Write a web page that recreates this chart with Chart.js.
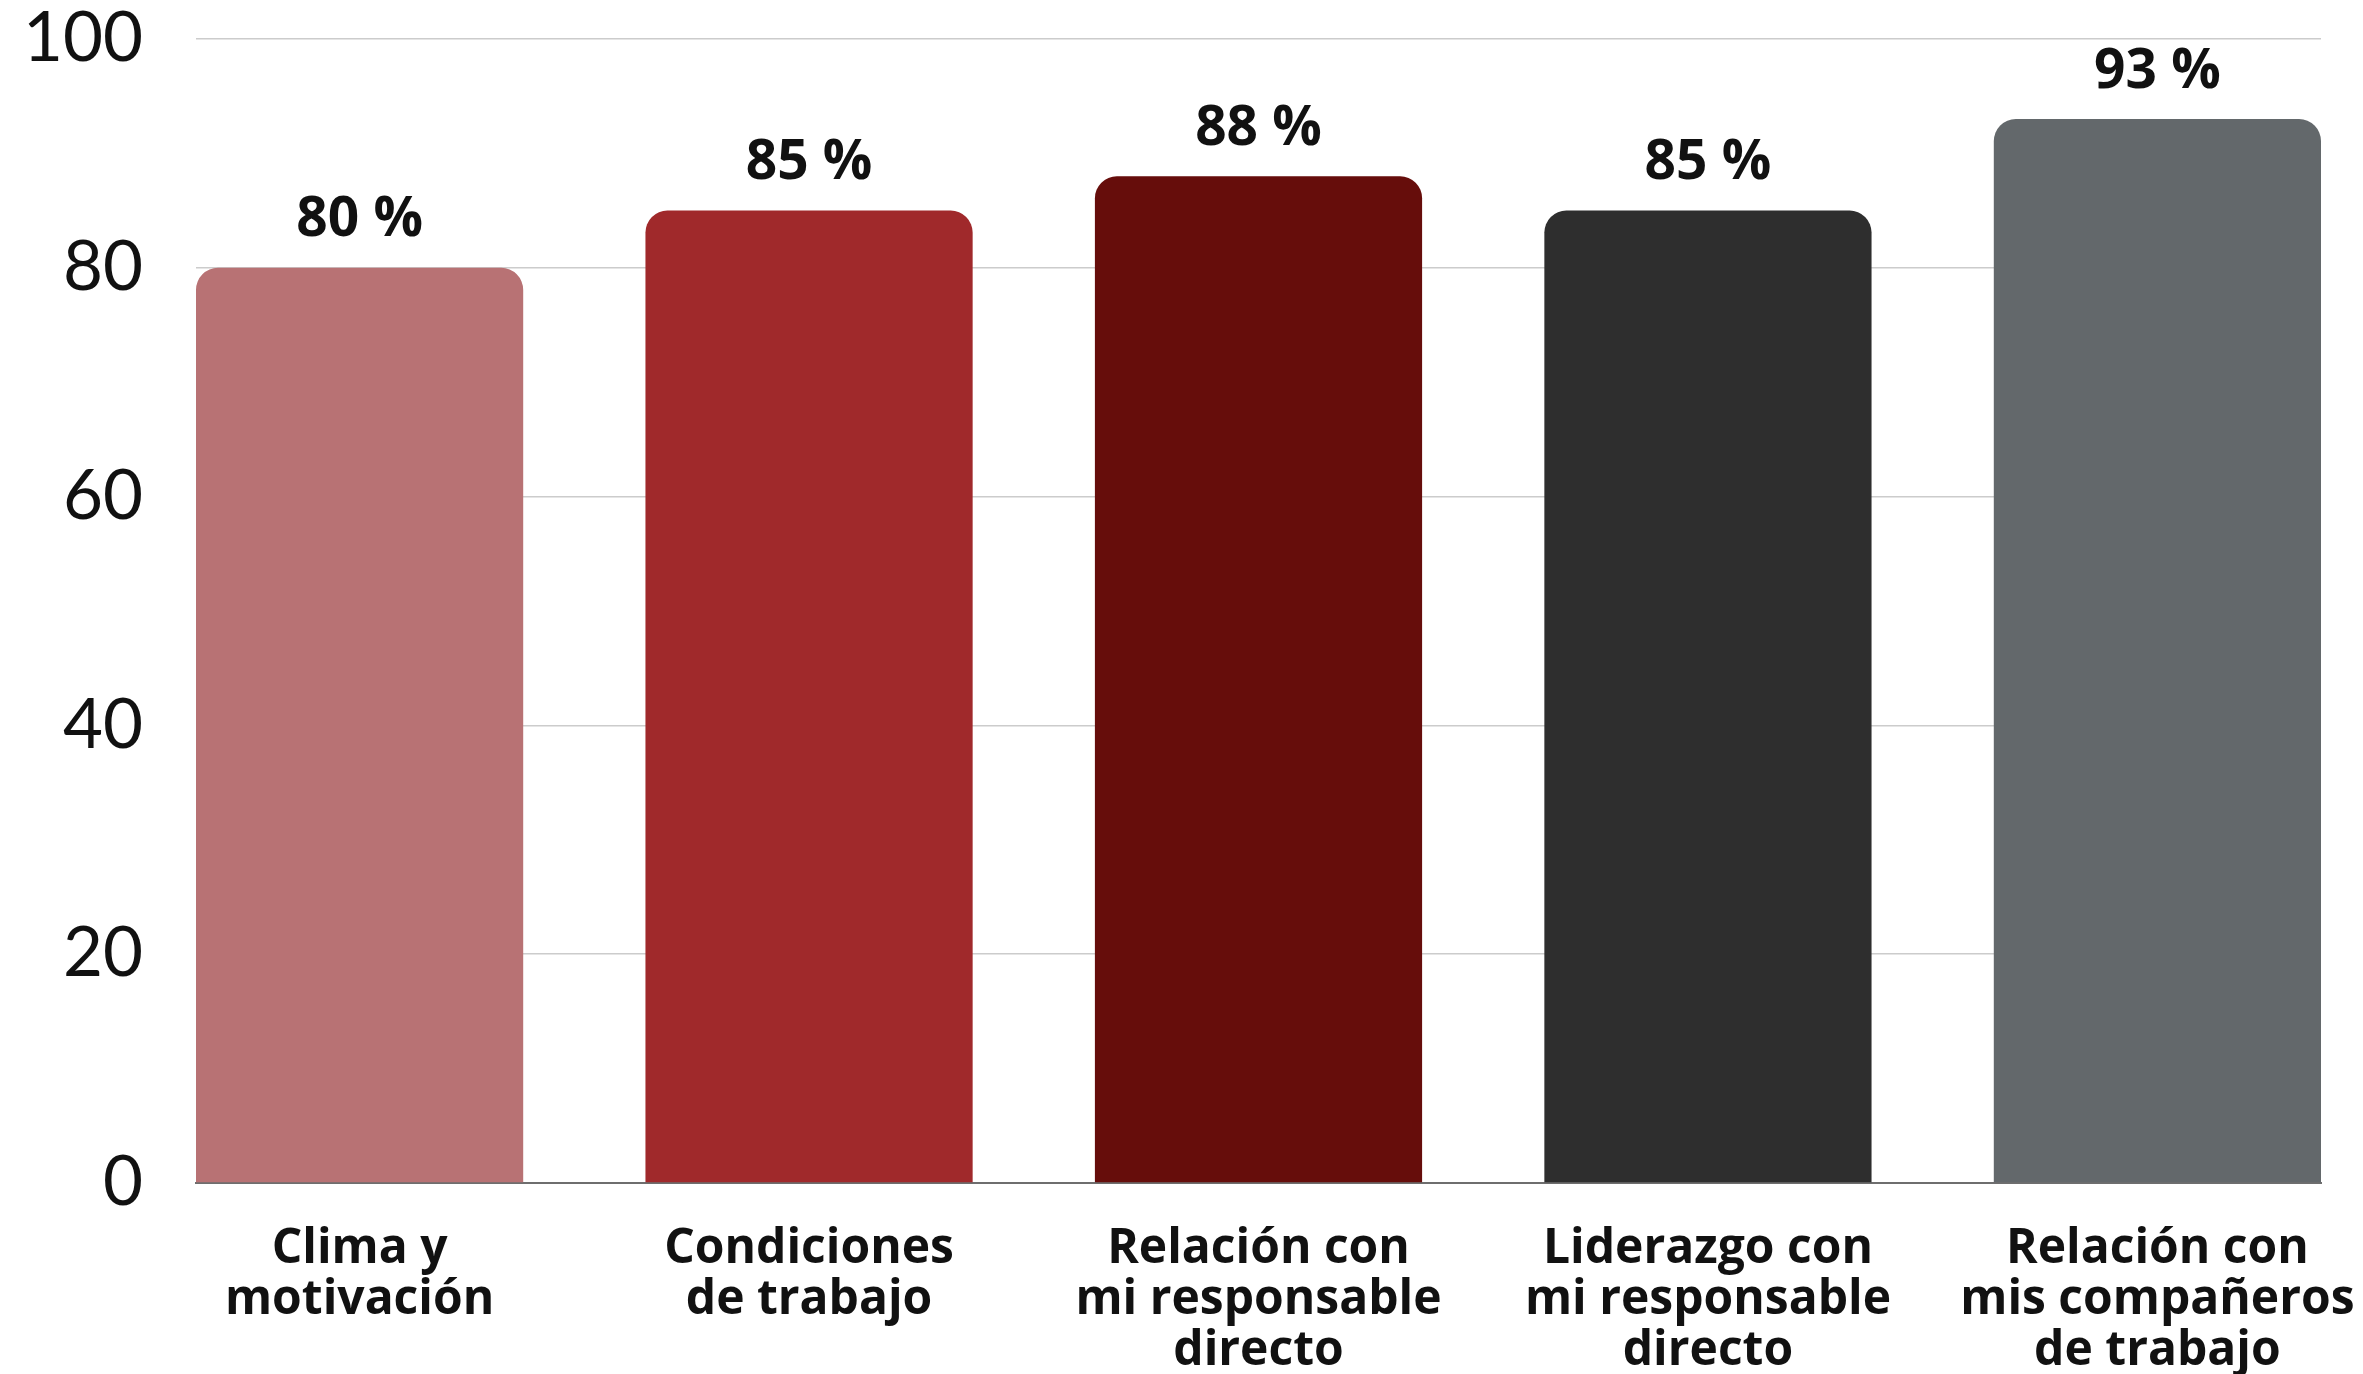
<!DOCTYPE html>
<html>
<head>
<meta charset="utf-8">
<script src="https://cdn.jsdelivr.net/npm/chart.js@4.4.1/dist/chart.umd.min.js"></script>
<style>
  html, body { margin: 0; padding: 0; background: #fff; }
  #wrap { width: 2363px; height: 1374px; }
</style>
</head>
<body>
<div id="wrap"><canvas id="c"></canvas></div>
<script>
// categories (one entry per line of the label)
const categories = [
    ["Clima y", "motivación"],
    ["Condiciones", "de trabajo"],
    ["Relación con", "mi responsable", "directo"],
    ["Liderazgo con", "mi responsable", "directo"],
    ["Relación con", "mis compañeros", "de trabajo"]
];
const values = [80, 85, 88, 85, 93];
const barColors = ['#b87274', '#a0292b', '#660d0b', '#2e2e2e', '#63686b'];
const yTicks = [0, 20, 40, 60, 80, 100];

// value labels above bars
const valueLabels = {
    id: 'valueLabels',
    afterDatasetsDraw(chart) {
        const ctx = chart.ctx;
        const meta = chart.getDatasetMeta(0);
        ctx.save();
        ctx.font = 'bold 55px "Open Sans"';
        ctx.fillStyle = '#111';
        ctx.textAlign = 'center';
        ctx.textBaseline = 'middle';
        meta.data.forEach((bar, i) => {
            ctx.fillText(values[i] + ' %', bar.x, bar.y - 47);
        });
        ctx.restore();
    }
};

new Chart(document.getElementById('c'), {
    type: 'bar',
    data: {
        datasets: [{
            data: values.map((v, i) => ({ x: i, y: v })),
            backgroundColor: barColors,
            borderRadius: { topLeft: 22, topRight: 22, bottomLeft: 0, bottomRight: 0 },
            borderSkipped: false,
            categoryPercentage: 1,
            barPercentage: 0.728
        }]
    },
    options: {
        responsive: true,
        maintainAspectRatio: false,
        animation: false,
        layout: { padding: { top: 39, right: 42, left: 0, bottom: 0 } },
        plugins: { legend: { display: false }, tooltip: { enabled: false } },
        scales: {
            x: {
                type: 'linear',
                min: -0.364,
                max: 4.364,
                offset: false,
                grid: { display: false },
                border: { display: true, color: '#6e6e6e', width: 2 },
                afterFit: s => { s.height = 191; s.paddingLeft = 0; s.paddingRight = 0; },
                ticks: {
                    stepSize: 1,
                    includeBounds: false,
                    autoSkip: false,
                    maxRotation: 0,
                    padding: 33,
                    color: '#111',
                    font: { family: '"Open Sans"', size: 48, weight: 'bold', lineHeight: 1.06 },
                    callback: v => Number.isInteger(v) ? categories[v] : ''
                }
            },
            y: {
                min: 0,
                max: 100,
                afterBuildTicks: s => { s.ticks = yTicks.map(v => ({ value: v })); },
                afterFit: s => { s.width = 196; s.paddingTop = 0; s.paddingBottom = 0; },
                grid: { color: '#cccccc', lineWidth: 1.5, drawTicks: false },
                border: { display: false },
                ticks: {
                    padding: 53,
                    color: '#111',
                    font: { family: 'Lato', size: 69, lineHeight: 1 }
                }
            }
        }
    },
    plugins: [valueLabels]
});
</script>
</body>
</html>
